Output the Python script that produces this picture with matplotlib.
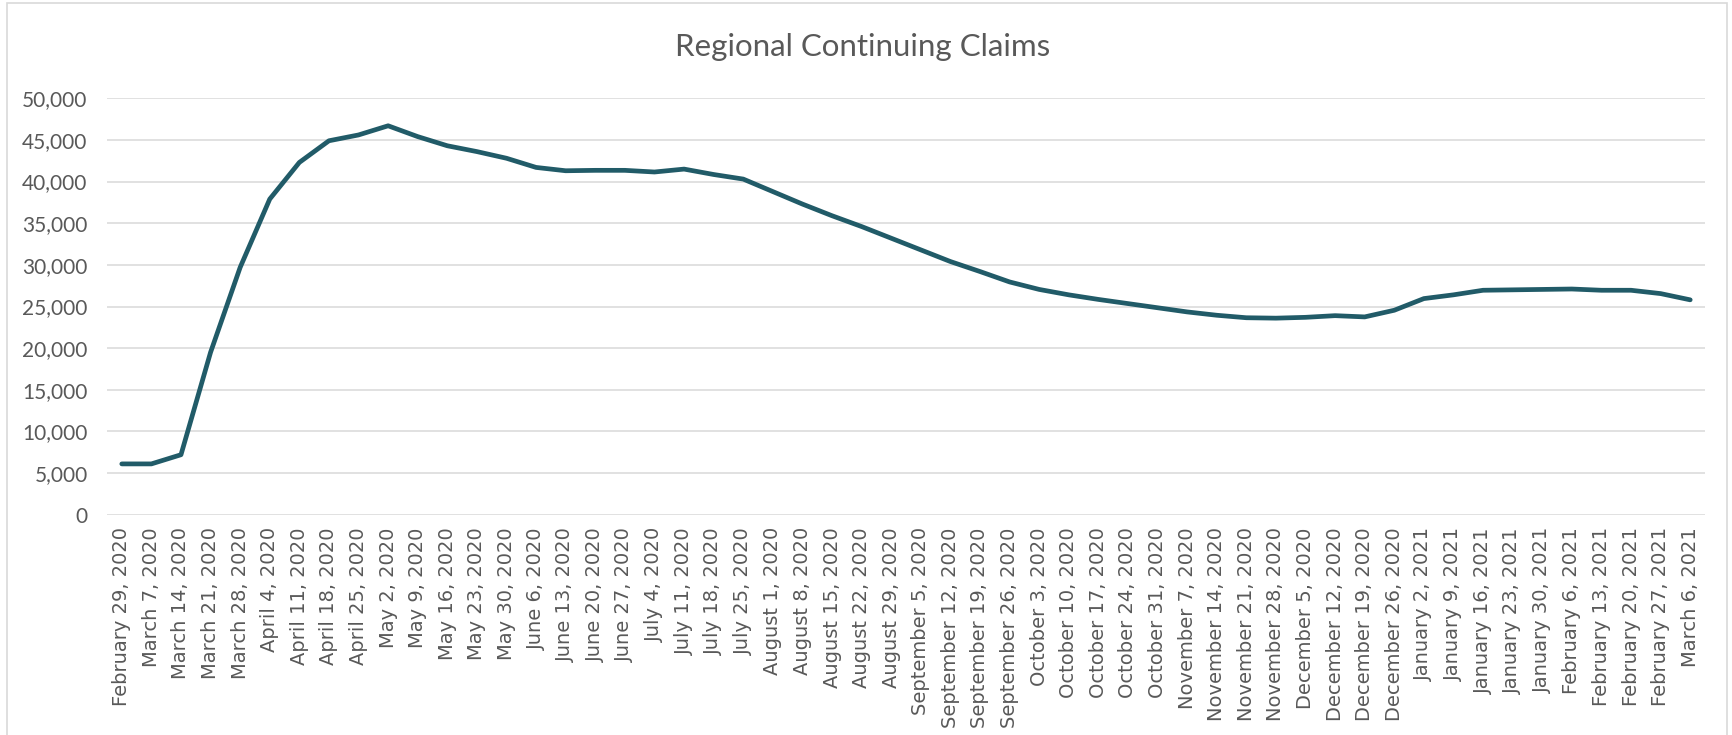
import matplotlib
matplotlib.use("Agg")
import matplotlib.pyplot as plt
from matplotlib.patches import Rectangle
from matplotlib.ticker import FuncFormatter, MultipleLocator

weeks = [
    "February 29, 2020", "March 7, 2020", "March 14, 2020", "March 21, 2020", "March 28, 2020",
    "April 4, 2020", "April 11, 2020", "April 18, 2020", "April 25, 2020",
    "May 2, 2020", "May 9, 2020", "May 16, 2020", "May 23, 2020", "May 30, 2020",
    "June 6, 2020", "June 13, 2020", "June 20, 2020", "June 27, 2020",
    "July 4, 2020", "July 11, 2020", "July 18, 2020", "July 25, 2020",
    "August 1, 2020", "August 8, 2020", "August 15, 2020", "August 22, 2020", "August 29, 2020",
    "September 5, 2020", "September 12, 2020", "September 19, 2020", "September 26, 2020",
    "October 3, 2020", "October 10, 2020", "October 17, 2020", "October 24, 2020", "October 31, 2020",
    "November 7, 2020", "November 14, 2020", "November 21, 2020", "November 28, 2020",
    "December 5, 2020", "December 12, 2020", "December 19, 2020", "December 26, 2020",
    "January 2, 2021", "January 9, 2021", "January 16, 2021", "January 23, 2021", "January 30, 2021",
    "February 6, 2021", "February 13, 2021", "February 20, 2021", "February 27, 2021",
    "March 6, 2021",
]

claims = [
    6100, 6100, 7200, 19500, 29700,
    37900, 42300, 44900, 45600,
    46700, 45400, 44300, 43600, 42800,
    41700, 41300, 41350, 41350,
    41150, 41500, 40850, 40300,
    38800, 37300, 35900, 34600, 33200,
    31800, 30400, 29200, 27950,
    27050, 26400, 25850, 25350, 24850,
    24350, 23950, 23650, 23600,
    23700, 23900, 23750, 24550,
    25950, 26400, 26950, 27000, 27050,
    27100, 26950, 26950, 26550,
    25800,
]

title = "Regional Continuing Claims"

W, H = 1732, 735
fig = plt.figure(figsize=(W / 100, H / 100), dpi=100)
fig.patch.set_facecolor("white")

# chart border
fig.patches.append(Rectangle((7 / W, -0.01), (1727 - 7) / W, 1.01 - 3 / H,
                             transform=fig.transFigure, fill=False,
                             edgecolor="#D9D9D9", linewidth=1.2))

ax = fig.add_axes([107 / W, 1 - 514.7 / H, (1705 - 107) / W, (514.7 - 98.3) / H])
x = list(range(len(weeks)))
ax.plot(x, claims, color="#215B68", linewidth=3.4, solid_capstyle="round",
        solid_joinstyle="round", zorder=3)

ax.set_xlim(-0.5, len(weeks) - 0.5)
ax.set_ylim(0, 50000)
ax.yaxis.set_major_locator(MultipleLocator(5000))
ax.yaxis.set_major_formatter(FuncFormatter(lambda v, p: f"{int(v):,}"))
ax.grid(axis="y", color="#D9D9D9", linewidth=1.1, zorder=0)
ax.set_axisbelow(True)
for s in ax.spines.values():
    s.set_visible(False)

ax.set_xticks(x)
ax.set_xticklabels(weeks, rotation=90, fontsize=14, color="#595959",
                   family="DejaVu Sans", va="top", ha="center")
ax.tick_params(axis="x", length=0, pad=9)
ax.tick_params(axis="y", length=0, pad=14, labelsize=15, labelcolor="#595959")
for lab in ax.get_yticklabels():
    lab.set_family("Lato")

fig.text(863 / W, 1 - 47 / H, title, ha="center", va="center",
         fontsize=22.5, color="#595959", family="Lato")

fig.savefig("out.png", dpi=100, facecolor="white")
